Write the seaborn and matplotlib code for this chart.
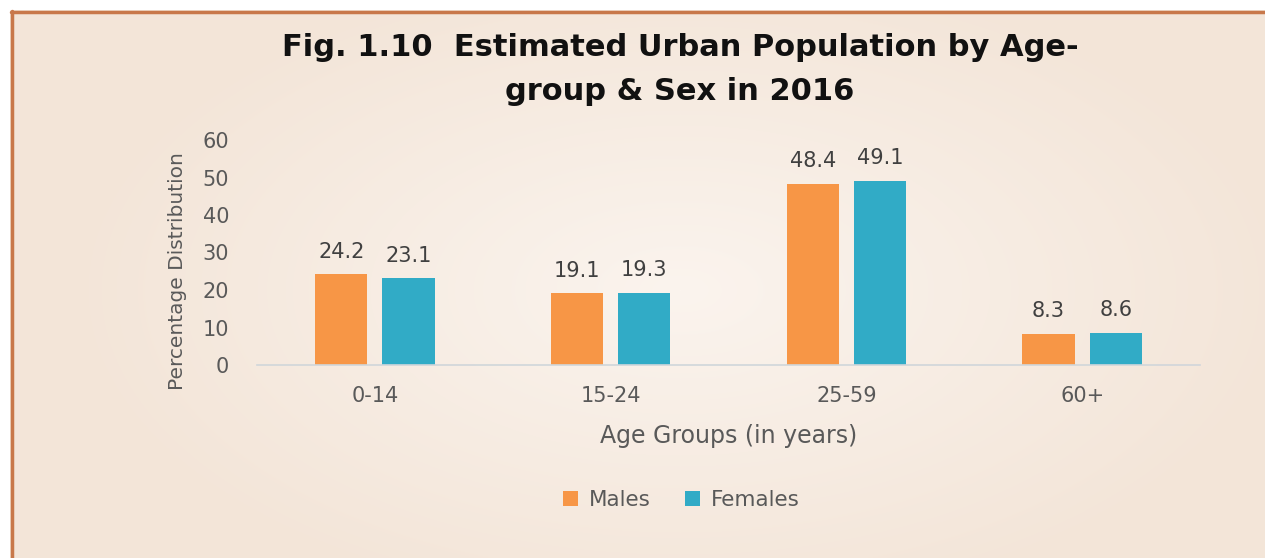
import numpy as np
import pandas as pd
import seaborn as sns
import matplotlib.pyplot as plt
import matplotlib.patches as mpatches
from matplotlib.lines import Line2D

age_groups = ['0-14', '15-24', '25-59', '60+']
males = [24.2, 19.1, 48.4, 8.3]
females = [23.1, 19.3, 49.1, 8.6]
sexes = ['Males', 'Females']
colors = {'Males': '#F79646', 'Females': '#31ABC6'}

df = pd.DataFrame({
    'Age': age_groups * 2,
    'Sex': ['Males'] * len(males) + ['Females'] * len(females),
    'Value': males + females,
})

sns.set_style("white")
plt.rcParams['font.family'] = ['DejaVu Sans']

W, H = 1265, 558
fig = plt.figure(figsize=(W / 100, H / 100), dpi=100)

# soft radial background
bg = fig.add_axes([0, 0, 1, 1], zorder=-10)
yy, xx = np.mgrid[0:H, 0:W]
r = np.sqrt(((xx - 680) / 620) ** 2 + ((yy - 290) / 330) ** 2)
t = np.clip(r, 0, 1)[..., None]
inner = np.array([0xFB, 0xF4, 0xEE]) / 255
outer = np.array([0xF3, 0xE5, 0xD8]) / 255
img = inner * (1 - t) + outer * t
img[:10, :, :] = 1.0
img[:, :10, :] = 1.0
bg.imshow(img, aspect='auto', extent=[0, W, H, 0])
bg.add_line(Line2D([11, W], [11.5, 11.5], color='#C8784A', lw=2.5))
bg.add_line(Line2D([11.5, 11.5], [11, H], color='#C8784A', lw=2.5))
bg.set_xlim(0, W)
bg.set_ylim(H, 0)
bg.axis('off')

ax = fig.add_axes([257 / W, 1 - 365 / H, (1200 - 257) / W, (365 - 140) / H])
ax.patch.set_alpha(0)
sns.barplot(data=df, x='Age', y='Value', hue='Sex', order=age_groups, hue_order=sexes,
            palette=colors, saturation=1, width=0.57, gap=0.22, linewidth=0, ax=ax, legend=False)

for c in ax.containers:
    ax.bar_label(c, fmt='%.1f', padding=9, fontsize=15, color='#404040')

ax.set_ylim(0, 60)
ax.set_yticks(range(0, 61, 10))
ax.tick_params(axis='y', length=0, pad=20, labelsize=15, labelcolor='#595959')
ax.tick_params(axis='x', length=0, pad=15, labelsize=15, labelcolor='#595959')
for s in ['top', 'right', 'left']:
    ax.spines[s].set_visible(False)
ax.spines['bottom'].set_color('#D0D6DA')
ax.spines['bottom'].set_linewidth(1.2)

ax.set_xlabel('Age Groups (in years)', fontsize=17, color='#595959', labelpad=13)
ax.set_ylabel('Percentage Distribution', fontsize=14.5, color='#595959')
ax.yaxis.set_label_coords(-0.074, 0.418)

fig.text(680 / W, 1 - 48 / H, 'Fig. 1.10  Estimated Urban Population by Age-',
         ha='center', va='center', fontsize=22, fontweight='bold', color='#111111')
fig.text(680 / W, 1 - 92 / H, 'group & Sex in 2016',
         ha='center', va='center', fontsize=22, fontweight='bold', color='#111111')

handles = [mpatches.Patch(facecolor=colors[s], edgecolor='none', label=s) for s in sexes]
fig.legend(handles=handles, loc='center', bbox_to_anchor=(681 / W, 1 - 500 / H), ncol=2,
           frameon=False, fontsize=15.5, handlelength=0.7, handleheight=0.7,
           handletextpad=0.5, columnspacing=1.6, labelcolor='#595959')

fig.savefig('out.png', dpi=100)
